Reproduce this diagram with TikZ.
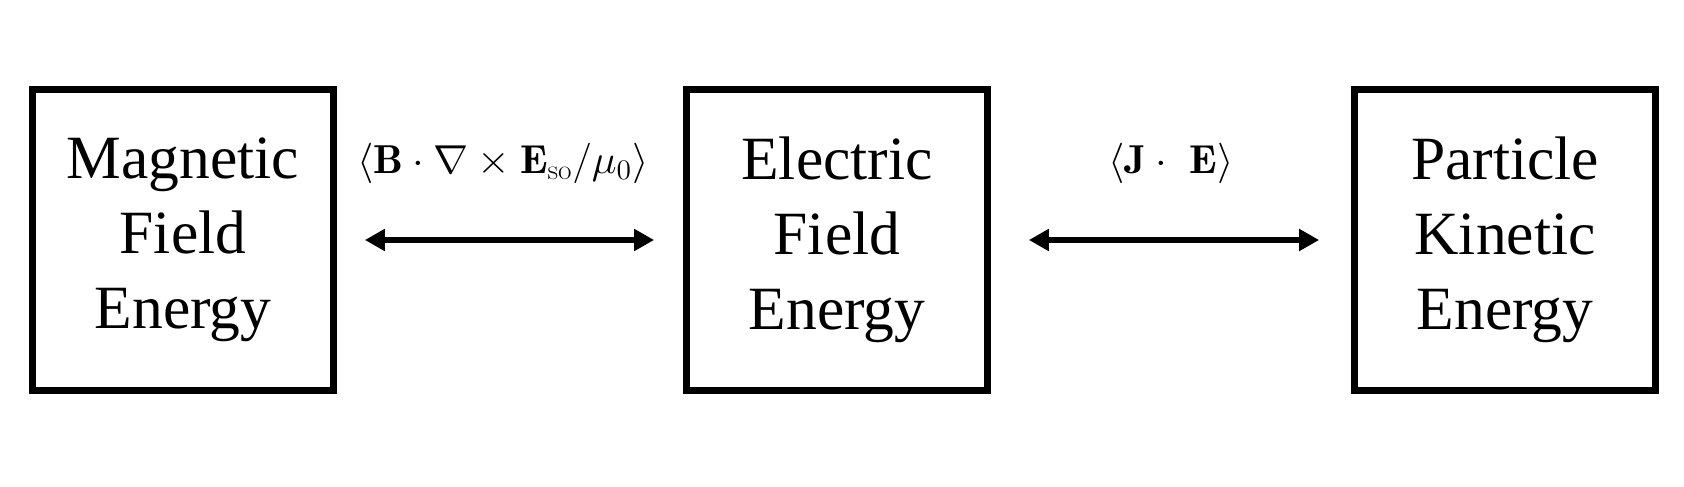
\RequirePackage{fix-cm}
\documentclass[tikz,border=0pt]{standalone}
\usepackage{amsmath}
\usepackage{fontspec}
\usepackage{tikz}
\usetikzlibrary{
	arrows.meta,
	positioning
}
\newfontfamily\timesfont{Liberation Serif}

\begin{document}
\begin{tikzpicture}[
	energybox/.style={draw, line width=0.135cm, minimum width=6.02cm, minimum height=6.02cm,
		inner sep=0pt, align=center, font=\timesfont\fontsize{35}{42.7}\selectfont},
	exchange/.style={line width=0.12cm,
		{Triangle[length=0.4cm, width=0.42cm]}-{Triangle[length=0.4cm, width=0.42cm]}},
	rate/.style={inner sep=0pt, outer sep=0pt, xscale=1.04, font=\fontsize{23}{28}\selectfont}
]
	\useasboundingbox (0,0) rectangle (33.68,9.72);

	% 三种能量
	\node[energybox] (magnetic) at (3.66,4.92) {Magnetic\\Field\\Energy};
	\node[energybox] (electric) at (16.74,4.92) {Electric\\Field\\Energy};
	\node[energybox] (kinetic) at (30.10,4.92) {Particle\\Kinetic\\Energy};

	% 能量转换
	\draw[exchange, shorten <=0.56cm, shorten >=0.58cm] (magnetic.east) -- (electric.west)
		node[rate, midway, above=1.12cm, xshift=-0.14cm]
		{$\langle\mathbf{B}\cdot\nabla\times\mathbf{E}_{\mathrm{so}}/\mu_0\rangle$};
	\draw[exchange, shorten <=0.76cm, shorten >=0.64cm] (electric.east) -- (kinetic.west)
		node[rate, midway, above=1.12cm]
		{$\langle\mathbf{J}\cdot\ \mathbf{E}\rangle$};
\end{tikzpicture}
\end{document}
